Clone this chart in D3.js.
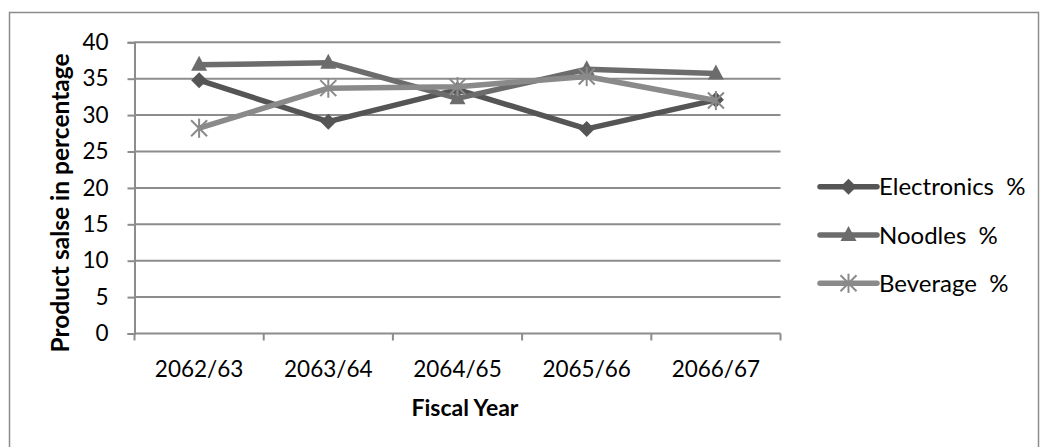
<!DOCTYPE html>
<html>
<head>
<meta charset="utf-8">
<script src="https://cdn.jsdelivr.net/npm/d3@7"></script>
<style>
  html, body { margin: 0; padding: 0; background: #fff; }
  svg { display: block; }
  text { font-family: Lato, "Open Sans", sans-serif; fill: #000; white-space: pre; }
</style>
</head>
<body>
<svg id="chart" width="1040" height="447"></svg>
<script>
// Fiscal years on the x axis
const years = ["2062/63", "2063/64", "2064/65", "2065/66", "2066/67"];
// Share of product sales, percent
const electronics = [34.8, 29.1, 33.5, 28.1, 32.1];
const noodles     = [36.9, 37.2, 32.3, 36.3, 35.7];
const beverage    = [28.2, 33.7, 33.9, 35.3, 32.0];
const seriesNames = ["Electronics  %", "Noodles  %", "Beverage  %"];
const yTicks = [0, 5, 10, 15, 20, 25, 30, 35, 40];

const series = [
  { name: seriesNames[0], values: electronics, color: "#555555", marker: "diamond" },
  { name: seriesNames[1], values: noodles,     color: "#6c6c6c", marker: "triangle" },
  { name: seriesNames[2], values: beverage,    color: "#8a8a8a", marker: "star" }
];

const svg = d3.select("#chart");

// outer frame
svg.append("rect")
  .attr("x", 9.5).attr("y", 12.5).attr("width", 1029).attr("height", 460)
  .attr("fill", "none").attr("stroke", "#8c8c8c").attr("stroke-width", 1.5);

const plot = { left: 134.5, right: 780.5, top: 42.3, bottom: 333.5 };

const x = d3.scaleBand().domain(years).range([plot.left, plot.right]);
const y = d3.scaleLinear().domain([0, 40]).range([plot.bottom, plot.top]);

// horizontal gridlines
svg.append("g").selectAll("line").data(yTicks.filter(d => d > 0)).join("line")
  .attr("x1", plot.left).attr("x2", plot.right)
  .attr("y1", d => y(d)).attr("y2", d => y(d))
  .attr("stroke", "#8c8c8c").attr("stroke-width", 2);

// y axis
const yAxis = svg.append("g").attr("transform", `translate(${plot.left},0)`)
  .call(d3.axisLeft(y).tickValues(yTicks).tickSize(7).tickPadding(19));
yAxis.select(".domain").attr("stroke", "#8c8c8c").attr("stroke-width", 2);
yAxis.selectAll(".tick line").attr("stroke", "#8c8c8c").attr("stroke-width", 2);
yAxis.selectAll(".tick text").attr("font-size", 22.5).attr("font-family", "Lato, sans-serif").attr("fill", "#000");

// x axis: ticks on category boundaries
const xAxis = svg.append("g").attr("transform", `translate(0,${plot.bottom})`);
xAxis.append("line").attr("x1", plot.left).attr("x2", plot.right)
  .attr("y1", 0).attr("y2", 0).attr("stroke", "#8c8c8c").attr("stroke-width", 2);
const bounds = years.map(d => x(d)).concat([x(years[years.length - 1]) + x.bandwidth()]);
xAxis.selectAll("line.tk").data(bounds).join("line").attr("class", "tk")
  .attr("x1", d => d).attr("x2", d => d).attr("y1", 0).attr("y2", 7)
  .attr("stroke", "#8c8c8c").attr("stroke-width", 2);
xAxis.selectAll("text").data(years).join("text")
  .attr("x", d => x(d) + x.bandwidth() / 2).attr("y", 43)
  .attr("text-anchor", "middle").attr("font-size", 22.5).text(d => d);

// axis titles
svg.append("text").attr("x", 465).attr("y", 416).attr("text-anchor", "middle")
  .attr("font-size", 23).attr("font-weight", "bold").text("Fiscal Year");
svg.append("text").attr("transform", "translate(68.5,203) rotate(-90)")
  .attr("text-anchor", "middle").attr("font-size", 24.5).attr("font-weight", "bold")
  .text("Product salse in percentage");

// marker shapes
function drawMarker(g, type, color) {
  if (type === "diamond") {
    g.append("path").attr("d", "M0,-8L8,0L0,8L-8,0Z").attr("fill", color);
  } else if (type === "triangle") {
    g.append("path").attr("d", "M0,-9L8,6L-8,6Z").attr("fill", color);
  } else {
    const s = 8;
    [[-s, -s, s, s], [-s, s, s, -s], [0, -s * 1.2, 0, s * 1.2]].forEach(c => {
      g.append("line").attr("x1", c[0]).attr("y1", c[1]).attr("x2", c[2]).attr("y2", c[3])
        .attr("stroke", color).attr("stroke-width", 2);
    });
  }
}

const cx = d => x(d) + x.bandwidth() / 2;
const line = d3.line().x((d, i) => cx(years[i])).y(d => y(d));

series.forEach(s => {
  svg.append("path").datum(s.values).attr("d", line)
    .attr("fill", "none").attr("stroke", s.color).attr("stroke-width", 5.5)
    .attr("stroke-linejoin", "round");
  s.values.forEach((v, i) => {
    const g = svg.append("g").attr("transform", `translate(${cx(years[i])},${y(v)})`);
    drawMarker(g, s.marker, s.color);
  });
});

// legend
const legend = svg.append("g");
series.forEach((s, i) => {
  const ly = 186.7 + i * 48.3;
  legend.append("line").attr("x1", 820).attr("x2", 877).attr("y1", ly).attr("y2", ly)
    .attr("stroke", s.color).attr("stroke-width", 5.5).attr("stroke-linecap", "round");
  const g = legend.append("g").attr("transform", `translate(848.5,${ly})`);
  drawMarker(g, s.marker, s.color);
  legend.append("text").attr("x", 879).attr("y", ly).attr("dy", "0.36em")
    .attr("font-size", 24).text(s.name);
});
</script>
</body>
</html>
